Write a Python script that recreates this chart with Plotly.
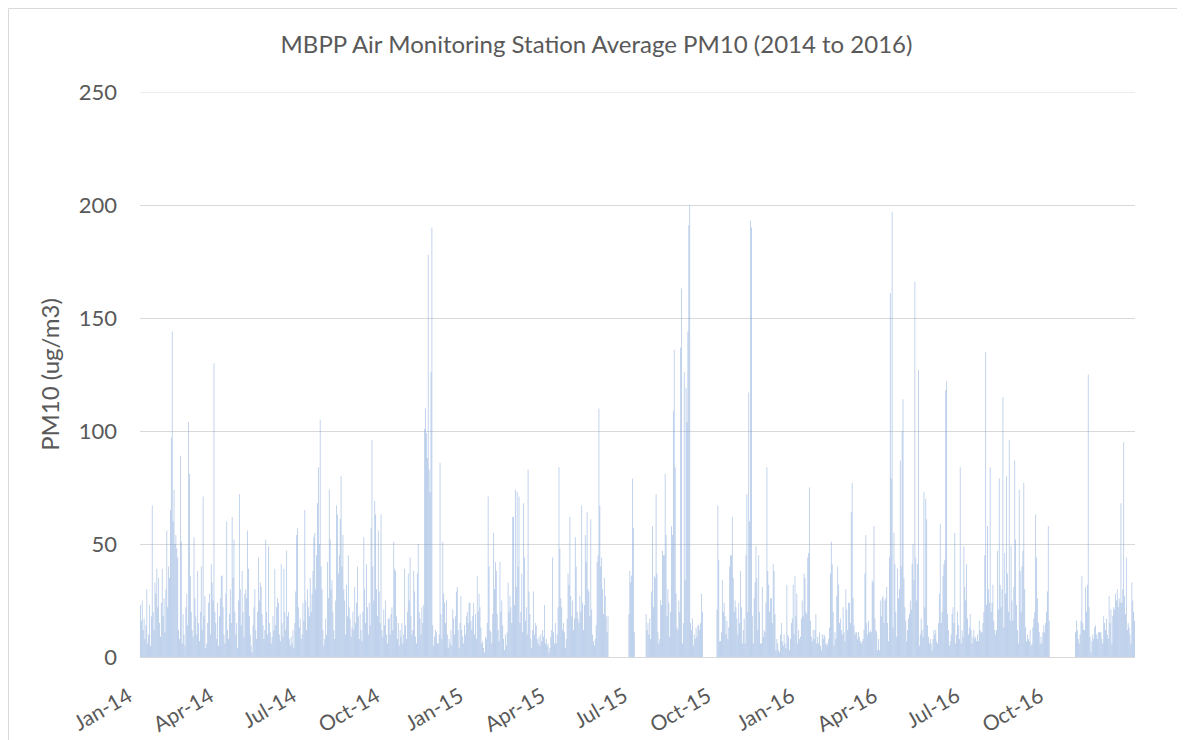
import pandas as pd
import plotly.graph_objects as go

# Daily average PM10 (ug/m3), estimated from the reference chart. None = no data.
pm10_2014 = [
    # Jan
    23,16,25,12,17,8,14,30,6,10, 23,5,18,67,20,12,33,28,39,22, 35,15,9,24,39,18,26,11,30,56, 22,
    # Feb
    40,35,65,97,144,60,74,50,54,48, 44,12,8,89,51,6,19,10,5,22, 28,14,104,81,36,20,12,9,
    # Mar
    53,26,18,10,38,15,7,20,40,12, 71,18,27,4,6,15,24,28,10,41, 33,25,130,20,15,8,24,5,18,26, 36,
    # Apr
    36,22,10,6,28,60,12,8,19,30, 15,62,35,52,20,10,15,4,25,72, 30,14,38,20,9,28,30,26,56,39,
    # May
    18,10,5,2,14,22,30,12,8,20, 44,25,33,31,19,14,8,12,52,20, 10,49,15,11,6,9,18,12,39,14, 22,
    # Jun
    26,24,10,7,41,15,9,39,20,12, 47,18,20,8,5,9,6,12,4,15, 29,54,57,22,13,17,8,10,24,16,
    # Jul
    65,25,12,30,22,18,35,20,28,38, 53,55,30,45,68,84,50,105,40,30, 12,5,8,17,10,42,26,74,52,30, 34,
    # Aug
    20,12,8,25,67,63,37,45,61,80, 40,54,30,25,10,32,18,45,22,17, 9,13,20,12,31,15,24,40,18,8, 19,
    # Sep
    12,7,20,53,30,15,41,22,10,24, 14,57,96,40,25,69,63,30,18,56, 29,15,63,12,9,21,14,25,10,6,
    # Oct
    17,17,10,19,22,12,51,39,38,18, 8,15,5,12,9,15,6,10,39,14, 8,20,37,25,44,18,10,12,38,29, 9,
    # Nov
    6,37,50,20,17,10,22,15,23,101, 110,99,88,178,83,73,126,190,14,5, 9,12,11,6,6,10,86,19,8,51,
    # Dec
    28,24,15,25,10,4,8,6,12,5, 21,17,10,18,29,31,12,4,15,27, 12,9,6,14,10,18,20,15,24,24, 16,
]

pm10_2015 = [
    # Jan
    12,18,24,10,19,8,36,20,28,22, 13,6,7,4,2,9,8,15,71,40, 12,11,6,19,55,30,42,38,19,12, 7,
    # Feb
    42,20,25,14,8,3,10,5,11,33, 20,27,22,15,62,62,23,74,31,73, 40,71,15,20,37,11,68,44,
    # Mar
    16,22,10,83,29,19,8,4,12,29, 10,15,14,8,6,9,5,10,7,12, 9,23,6,8,5,6,2,4,9,12, 44,
    # Apr
    11,6,15,6,10,22,84,48,26,22, 12,15,11,4,8,17,37,32,62,27, 18,25,12,17,53,40,20,17,15,27,
    # May
    20,67,24,12,23,54,42,64,30,29, 18,61,21,10,7,5,8,14,42,45, 110,67,40,44,30,19,35,27,18,11, 18,
    # Jun
    None,None,None,None,None,None,None,None,None,None, None,None,None,None,None,None,None,None,None,None,
    None,None,19,38,33,36,79,57,11,None,
    # Jul
    None,None,None,None,None,None,None,None,None,None, None,19,12,15,10,17,8,29,58,22,
    36,35,72,37,11,6,8,25,23,47, 45,
    # Aug
    45,81,54,18,30,24,9,20,58,54, 109,136,84,28,13,12,25,20,137,163, 6,15,126,34,119,104,144,191,200,15, 12,
    # Sep
    17,5,10,8,13,9,14,14,12,15, 28,20,None,None,None,None,None,None,None,None,
    None,None,None,None,None,None,None,21,67,43,
    # Oct
    7,7,11,34,20,24,18,10,16,8, 13,40,45,45,62,35,20,25,22,17, 10,24,15,38,22,6,12,17,6,45, 72,
    # Nov
    20,117,60,193,190,18,6,26,33,49, 35,12,45,20,6,6,31,9,12,11, 24,84,38,32,20,26,26,15,41,38,
    # Dec
    19,3,8,6,3,2,10,15,7,5, 10,6,4,32,10,9,3,8,15,17, 32,10,36,18,28,6,12,8,9,17, 25,
]

pm10_2016 = [
    # Jan
    18,37,35,20,19,44,46,75,16,9, 7,12,8,12,19,6,9,6,11,5, 3,10,8,10,9,6,5,6,8,13, 37,
    # Feb
    51,41,20,5,11,8,27,40,32,15, 17,12,10,22,11,7,30,21,12,24, 24,15,64,77,26,14,10,11,11,
    # Mar
    8,11,9,7,6,7,8,12,37,54, 15,10,16,11,12,11,34,33,58,17, 12,11,3,8,3,25,18,26,27,15, 25,
    # Apr
    26,31,15,7,44,161,79,197,13,55, 41,20,9,39,26,30,87,40,100,114, 35,22,16,7,12,17,19,25,21,41,
    # May
    50,34,166,44,25,41,127,5,10,17, 12,9,73,22,70,61,14,9,6,8, 6,3,8,12,10,12,7,6,15,28, 59,
    # Jun
    15,20,36,41,43,118,122,19,12,5, 7,10,19,22,15,55,6,10,20,14, 8,84,6,12,9,49,31,25,41,17,
    # Jul
    10,13,19,12,6,9,12,8,9,7, 10,7,16,12,11,11,15,20,45,135, 23,58,30,24,84,20,24,32,16,12, 10,
    # Aug
    12,47,21,79,32,22,30,115,13,46, 28,80,37,20,96,16,49,25,16,31, 87,52,23,12,6,74,38,20,40,47, 77,
    # Sep
    30,13,7,10,8,7,12,5,6,13, 17,20,63,44,26,15,11,6,9,6, 11,14,11,15,20,29,58,16,None,None,
    # Oct
    None,None,None,None,None,None,None,None,None,None, None,None,None,None,None,None,None,None,None,None,
    None,None,None,None,None,None,11,16,12,8, 6,
    # Nov
    10,16,36,15,12,12,31,20,32,125, 22,9,2,7,10,8,13,14,10,8, 11,11,11,11,8,6,18,15,12,17,
    # Dec
    10,8,27,15,21,6,18,22,21,28, 25,30,22,26,24,68,24,30,95,27, 19,44,12,15,13,10,6,33,25,20, 16,
]

tick_dates = ["2014-01-01", "2014-04-01", "2014-07-01", "2014-10-01",
              "2015-01-01", "2015-04-01", "2015-07-01", "2015-10-01",
              "2016-01-01", "2016-04-01", "2016-07-01", "2016-10-01"]
tick_labels = ["Jan-14", "Apr-14", "Jul-14", "Oct-14",
               "Jan-15", "Apr-15", "Jul-15", "Oct-15",
               "Jan-16", "Apr-16", "Jul-16", "Oct-16"]
y_ticks = [0, 50, 100, 150, 200, 250]

dates = (list(pd.date_range("2014-01-01", periods=len(pm10_2014), freq="D"))
         + list(pd.date_range("2015-01-01", periods=len(pm10_2015), freq="D"))
         + list(pd.date_range("2016-01-01", periods=len(pm10_2016), freq="D")))
values = pm10_2014 + pm10_2015 + pm10_2016

FONT = "Lato"
GREY = "#595959"
W, H = 1177, 732          # page body adds an 8px margin
L, R, T, B = 132, 50, 84, 83
PW, PH = W - L - R, H - T - B

fig = go.Figure()
fig.add_trace(go.Bar(
    x=dates, y=values,
    marker=dict(color="rgba(120,160,215,0.52)", line=dict(width=0)),
    showlegend=False,
))

fig.update_layout(
    width=W, height=H,
    paper_bgcolor="white", plot_bgcolor="white",
    margin=dict(l=L, r=R, t=T, b=B, autoexpand=False),
    bargap=0.05,
    font=dict(family=FONT, color=GREY),
    title=dict(text="MBPP Air Monitoring Station Average PM10 (2014 to 2016)",
               x=0.5, xref="container", xanchor="center",
               y=1 - 37 / H, yref="container", yanchor="middle",
               font=dict(family=FONT, size=24, color=GREY)),
    xaxis=dict(
        type="date",
        range=["2013-12-31 12:00", "2016-12-31 12:00"],
        tickmode="array", tickvals=tick_dates, ticktext=tick_labels,
        tickangle=-30, tickfont=dict(size=21, color=GREY),
        ticks="outside", ticklen=18, tickcolor="rgba(255,255,255,0)",
        ticklabelshift=-12,
        showgrid=False, showline=True, linecolor="#d9d9d9", linewidth=1,
        zeroline=False,
    ),
    yaxis=dict(
        range=[0, 250], tickmode="array", tickvals=y_ticks,
        showgrid=True, gridcolor="#d9d9d9", gridwidth=1,
        zeroline=False, showline=False, ticks="",
        tickfont=dict(size=22, color=GREY), ticklabelstandoff=22,
        title=dict(text="PM10 (ug/m3)", font=dict(size=24, color=GREY), standoff=12),
    ),
    shapes=[
        dict(type="line", xref="paper", yref="y", x0=0, x1=1, y0=y_ticks[-1], y1=y_ticks[-1],
             line=dict(color="#d9d9d9", width=1), layer="below"),
        dict(type="rect", xref="paper", yref="paper",
             x0=(0.5 - L) / PW, x1=(1172 - L) / PW,
             y0=(PH + T - H - 10) / PH, y1=(PH + T - 0.5) / PH,
             line=dict(color="#d9d9d9", width=1), fillcolor="rgba(0,0,0,0)",
             layer="below"),
    ],
)

fig.write_html("out.html")
